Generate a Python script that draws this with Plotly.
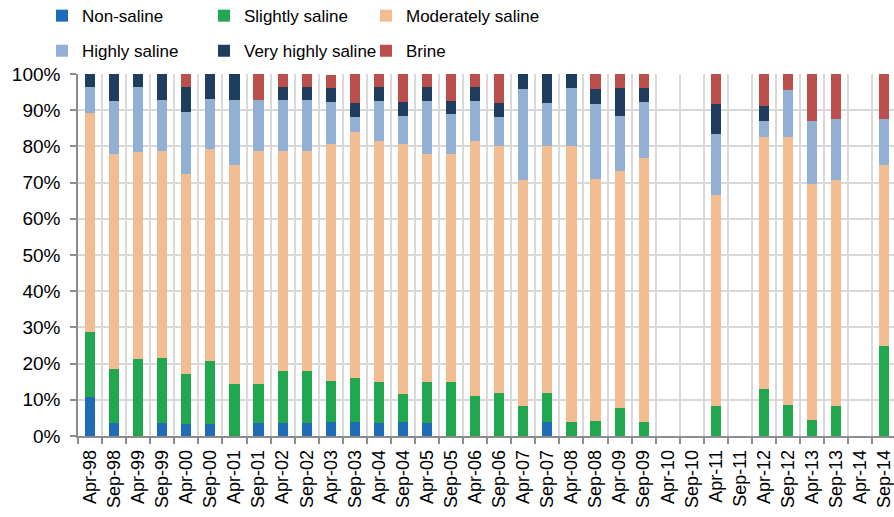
"""Salinity class shares by sampling round, stacked to 100%."""

import plotly.graph_objects as go

ROUNDS = [
    "Apr-98", "Sep-98", "Apr-99", "Sep-99", "Apr-00", "Sep-00", "Apr-01", "Sep-01",
    "Apr-02", "Sep-02", "Apr-03", "Sep-03", "Apr-04", "Sep-04", "Apr-05", "Sep-05",
    "Apr-06", "Sep-06", "Apr-07", "Sep-07", "Apr-08", "Sep-08", "Apr-09", "Sep-09",
    "Apr-10", "Sep-10", "Apr-11", "Sep-11", "Apr-12", "Sep-12", "Apr-13", "Sep-13",
    "Apr-14", "Sep-14",
]

# shares in percent, one value per round
non_saline = [
    10.7, 3.7, 0, 3.6, 3.4, 3.4, 0, 3.6, 3.6, 3.6, 3.8, 4.0, 3.7, 3.8, 3.7, 0,
    0, 0, 0, 4.0, 0, 0, 0, 0, 0, 0, 0, 0, 0, 0, 0, 0, 0, 0,
]
slightly_saline = [
    17.9, 14.8, 21.4, 17.9, 13.8, 17.2, 14.3, 10.7, 14.3, 14.3, 11.5, 12.0, 11.1, 7.7, 11.1, 14.8,
    11.1, 12.0, 8.3, 8.0, 4.0, 4.2, 7.7, 3.8, 0, 0, 8.3, 0, 13.0, 8.7, 4.3, 8.3, 0, 25.0,
]
moderately_saline = [
    60.7, 59.3, 57.1, 57.1, 55.2, 58.6, 60.7, 64.3, 60.7, 60.7, 65.4, 68.0, 66.7, 69.2, 63.0, 63.0,
    70.4, 68.0, 62.5, 68.0, 76.0, 66.7, 65.4, 73.1, 0, 0, 58.3, 0, 69.6, 73.9, 65.2, 62.5, 0, 50.0,
]
highly_saline = [
    7.1, 14.8, 17.9, 14.3, 17.2, 13.8, 17.9, 14.3, 14.3, 14.3, 11.5, 4.0, 11.1, 7.7, 14.8, 11.1,
    11.1, 8.0, 25.0, 12.0, 16.0, 20.8, 15.4, 15.4, 0, 0, 16.7, 0, 4.3, 13.0, 17.4, 16.7, 0, 12.5,
]
very_highly_saline = [
    3.6, 7.4, 3.6, 7.1, 6.9, 6.9, 7.1, 0, 3.6, 3.6, 3.8, 4.0, 3.7, 3.8, 3.7, 3.7,
    3.7, 4.0, 4.2, 8.0, 4.0, 4.2, 7.7, 3.8, 0, 0, 8.3, 0, 4.3, 0, 0, 0, 0, 0,
]
brine = [
    0, 0, 0, 0, 3.4, 0, 0, 7.1, 3.6, 3.6, 3.8, 8.0, 3.7, 7.7, 3.7, 7.4,
    3.7, 8.0, 0, 0, 0, 4.2, 3.8, 3.8, 0, 0, 8.3, 0, 8.7, 4.3, 13.0, 12.5, 0, 12.5,
]

# one legend per legend column: (name, values, colour, legend)
SERIES = [
    ("Non-saline", non_saline, "#1E6BB8", "legend"),
    ("Slightly saline", slightly_saline, "#21A84F", "legend2"),
    ("Moderately saline", moderately_saline, "#F4BD91", "legend3"),
    ("Highly saline", highly_saline, "#92AFD4", "legend"),
    ("Very highly saline", very_highly_saline, "#1F3D5E", "legend2"),
    ("Brine", brine, "#BA4F4C", "legend3"),
]

FONT = "Arial, Liberation Sans, sans-serif"
GRID = "#D9D9D9"
AXIS = "#8C8C8C"

W, H = 894, 517

fig = go.Figure()
for name, values, color, legend in SERIES:
    fig.add_trace(
        go.Bar(
            x=ROUNDS,
            y=values,
            name=name,
            legendgroup=name,
            marker=dict(color=color, line=dict(width=0)),
            legend=legend,
        )
    )

legend_style = dict(
    orientation="v",
    traceorder="grouped",
    tracegroupgap=10,
    xref="container",
    yref="container",
    xanchor="left",
    yanchor="middle",
    y=0.935,
    font=dict(family=FONT, size=17, color="#000000"),
    bgcolor="rgba(0,0,0,0)",
    itemclick=False,
)

fig.update_layout(
    barmode="stack",
    bargap=0.58,
    width=W,
    height=H,
    margin=dict(l=78, r=0, t=74, b=81, autoexpand=False),
    plot_bgcolor="#FFFFFF",
    paper_bgcolor="#FFFFFF",
    font=dict(family=FONT, color="#000000"),
    legend=dict(x=42 / W, **legend_style),
    legend2=dict(x=204 / W, **legend_style),
    legend3=dict(x=366 / W, **legend_style),
    xaxis=dict(
        type="category",
        range=[-0.5, 33.4],
        automargin=False,
        tickson="boundaries",
        ticks="outside",
        ticklen=6,
        tickcolor=AXIS,
        tickwidth=1.5,
        showgrid=True,
        gridcolor=GRID,
        gridwidth=1.5,
        showline=True,
        linecolor=AXIS,
        linewidth=1.5,
        tickangle=-90,
        ticklabelstandoff=5,
        tickfont=dict(family=FONT, size=18),
    ),
    yaxis=dict(
        range=[0, 100],
        automargin=False,
        dtick=10,
        ticksuffix="%",
        ticks="outside",
        ticklen=6,
        tickcolor=AXIS,
        tickwidth=1.5,
        showgrid=True,
        gridcolor=GRID,
        gridwidth=1.5,
        showline=True,
        linecolor=AXIS,
        linewidth=1.5,
        zeroline=False,
        ticklabelstandoff=6,
        tickfont=dict(family=FONT, size=19),
    ),
)

# drop the page's default body margin so the figure fills the window exactly
fig.write_html(
    "out.html",
    config={"displayModeBar": False},
    post_script="document.body.style.margin = '0';",
)
